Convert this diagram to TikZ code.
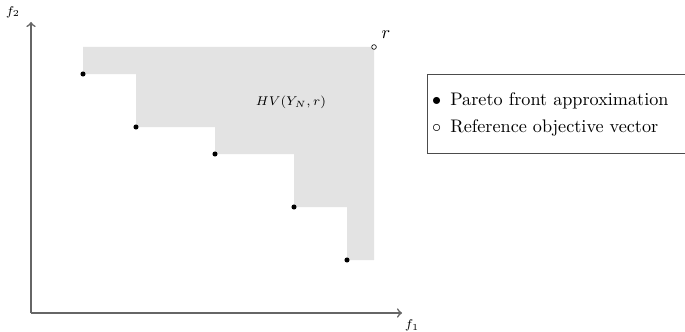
\documentclass[tikz,border=0pt]{standalone}
\usepackage{tikz}

\begin{document}
\begin{tikzpicture}[x=0.55pt, y=-0.55pt]
% Styles
\tikzset{
    front/.style={circle, fill=black, inner sep=0pt, minimum size=2.8pt},
    refpoint/.style={circle, draw=black, fill=white, line width=0.35pt, inner sep=0pt, minimum size=2.6pt},
    axis/.style={->, line width=0.9pt, black!60},
    legendbox/.style={draw=black!70, line width=0.7pt, inner xsep=2.5pt, align=left,
        text width=136.9pt, minimum height=43.4pt, anchor=north west}
}
\useasboundingbox (0,0) rectangle (685,331);

% Coordinates
\coordinate (O) at (31, 313);
\coordinate (XEND) at (402, 313);
\coordinate (YEND) at (31, 22);
\coordinate (p1) at (83, 74);
\coordinate (p2) at (136, 127);
\coordinate (p3) at (215, 154);
\coordinate (p4) at (294, 207);
\coordinate (p5) at (347, 260);
\coordinate (r) at (374, 47);

% Dominated region
\fill[black!11] (p1 |- r) -- (r) -- (r |- p5) -- (p5) |- (p4) |- (p3) |- (p2) |- (p1) -- cycle;

% Axes
\draw[axis] (O) -- (XEND);
\draw[axis] (O) -- (YEND);

% Nodes
\node[front] (P1) at (p1) {};
\node[front] (P2) at (p2) {};
\node[front] (P3) at (p3) {};
\node[front] (P4) at (p4) {};
\node[front] (P5) at (p5) {};
\node[refpoint] (R) at (r) {};

\node (RLABEL) at (386, 35) {$r$};
\node (HV) at (291, 102) {\scriptsize $HV(Y_N, r)$};
\node (F1) at (412, 325) {\scriptsize $f_1$};
\node (F2) at (13, 12) {\scriptsize $f_2$};

% Legend
\node[legendbox] (LEGEND) at (427, 74)
    {$\bullet$\hspace{5pt}Pareto front approximation\\[3pt] $\circ$\hspace{5pt}Reference objective vector};
\end{tikzpicture}
\end{document}
